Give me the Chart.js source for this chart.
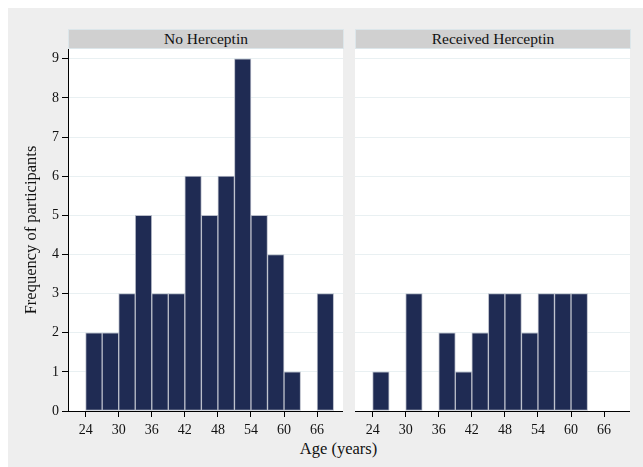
<!DOCTYPE html>
<html>
<head>
<meta charset="utf-8">
<script src="https://cdn.jsdelivr.net/npm/chart.js@4.4.0/dist/chart.umd.min.js"></script>
<style>
  html, body { margin: 0; padding: 0; background: #ffffff; }
  #fond { position: absolute; left: 8px; top: 8px; width: 635px; height: 459px; background: #eeeeee; }
  .bandeau { position: absolute; top: 29px; height: 18px; background: #d0d0d0; border: 1px solid #dce6ea;
             font: 15.5px "Liberation Serif", "Times New Roman", serif; color: #111; text-align: center; line-height: 18px; }
  .graphe { position: absolute; top: 37px; }
  #titreX { position: absolute; left: 0; width: 677px; top: 439px; text-align: center;
            font: 16.5px "Liberation Serif", "Times New Roman", serif; color: #111; }
</style>
</head>
<body>
<div id="fond"></div>
<div class="bandeau" style="left:68px;width:274px;">No Herceptin</div>
<div class="bandeau" style="left:355px;width:274px;">Received Herceptin</div>
<div class="graphe" style="left:8px;width:335px;height:401px;"><canvas id="gauche"></canvas></div>
<div class="graphe" style="left:355px;width:275px;height:401px;"><canvas id="droite"></canvas></div>
<div id="titreX">Age (years)</div>
<script>
// debut de chaque classe d'age (largeur 3 ans)
const debutsClasses = [24, 27, 30, 33, 36, 39, 42, 45, 48, 51, 54, 57, 60, 63, 66];
const sansHerceptin = [2, 2, 3, 5, 3, 3, 6, 5, 6, 9, 5, 4, 1, 0, 3];
const avecHerceptin = [1, 0, 3, 0, 2, 1, 2, 3, 3, 2, 3, 3, 3, 0, 0];
const ticksX = [24, 30, 36, 42, 48, 54, 60, 66];
const ticksY = [0, 1, 2, 3, 4, 5, 6, 7, 8, 9];

const police = { family: '"Liberation Serif", "Times New Roman", serif', size: 14 };

// fond blanc de la zone de trace
const fondBlanc = {
    id: 'fondBlanc',
    beforeDraw(chart) {
        const a = chart.chartArea;
        chart.ctx.save();
        chart.ctx.fillStyle = '#ffffff';
        chart.ctx.fillRect(a.left, a.top, a.right - a.left, a.bottom - a.top);
        chart.ctx.restore();
    }
};

function faireGraphe(id, valeurs, avecAxeY) {
    const points = debutsClasses.map((d, i) => ({ x: d + 1.5, y: valeurs[i] === 0 ? null : valeurs[i] }));
    return new Chart(document.getElementById(id), {
        type: 'bar',
        data: {
            datasets: [{
                data: points,
                backgroundColor: '#1f2b53',
                borderColor: '#b9bdc9',
                borderWidth: 1,
                borderSkipped: false,
                barPercentage: 1,
                categoryPercentage: 1
            }]
        },
        options: {
            animation: false,
            responsive: true,
            maintainAspectRatio: false,
            layout: { padding: { top: 12, left: 0, right: 0, bottom: 0 } },
            plugins: { legend: { display: false }, tooltip: { enabled: false } },
            scales: {
                x: {
                    type: 'linear',
                    offset: false,
                    min: 20.8,
                    max: 70.7,
                    afterBuildTicks: s => { s.ticks = ticksX.map(v => ({ value: v })); },
                    afterFit: s => { s.height = 27; },
                    ticks: { color: '#111', font: police, padding: 5, maxRotation: 0, autoSkip: false },
                    grid: { offset: false, drawOnChartArea: false, tickLength: 6, tickColor: '#000' },
                    border: { color: '#000', width: 1 }
                },
                y: {
                    min: 0,
                    max: 9.25,
                    afterBuildTicks: s => { s.ticks = ticksY.map(v => ({ value: v })); },
                    afterFit: s => { s.width = avecAxeY ? 60 : 0; },
                    ticks: { display: avecAxeY, color: '#111', font: police, padding: 3 },
                    grid: { color: '#e9f0f2', drawTicks: avecAxeY, tickLength: 6, tickColor: '#000' },
                    border: { display: avecAxeY, color: '#000', width: 1 },
                    title: {
                        display: avecAxeY,
                        text: 'Frequency of participants',
                        color: '#111',
                        font: { family: '"Liberation Serif", "Times New Roman", serif', size: 16.5 },
                        padding: { top: 14, bottom: 0 }
                    }
                }
            }
        },
        plugins: [fondBlanc]
    });
}

faireGraphe('gauche', sansHerceptin, true);
faireGraphe('droite', avecHerceptin, false);
</script>
</body>
</html>
